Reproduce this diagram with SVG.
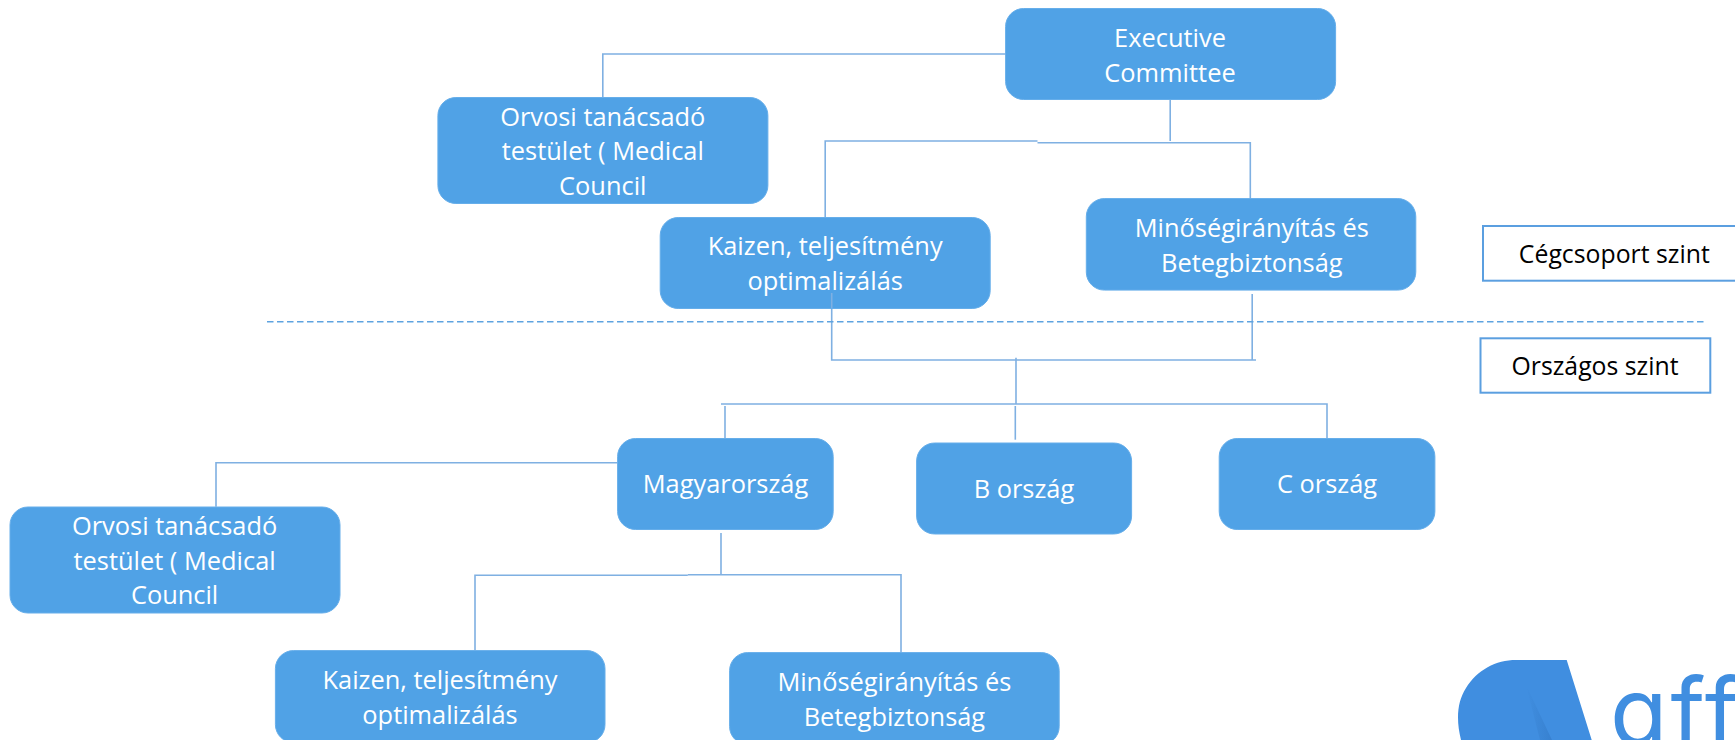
<svg xmlns="http://www.w3.org/2000/svg" width="1735" height="740" viewBox="0 0 1735 740">
<style>
.box{fill:#50a2e6;stroke:#66aeea;stroke-width:1}
.t{font-family:"Open Sans","Noto Sans","Liberation Sans",sans-serif;font-size:25.4px;fill:#fff;text-anchor:middle}
.k{fill:#000;font-size:24.8px}
.lab{fill:#fff;stroke:#5b9fe0;stroke-width:2}
.c{fill:none;stroke:#7fb0e2;stroke-width:1.6}
.d{fill:none;stroke:#5ea3e0;stroke-width:1.4;stroke-dasharray:6.5 3.5}
.logo{font-family:Inter,"Noto Sans",sans-serif;font-size:94px;font-weight:400;letter-spacing:3px;fill:#408ee0;font-feature-settings:"cv11"}
</style>
<defs><linearGradient id="sh" x1="0" y1="0" x2="1" y2="0"><stop offset="0" stop-color="#408ee0"/><stop offset="1" stop-color="#2f74c0"/></linearGradient></defs>
<g id="connectors">
<path class="c" d="M1006 54H602.8V97"/>
<path class="c" d="M1170.2 99.5V141"/>
<path class="c" d="M1037.5 141H825.2V217"/>
<path class="c" d="M1037.5 142.7H1250.3V218"/>
<path class="c" d="M831.7 293V360H1256"/>
<path class="c" d="M1252.2 294V360"/>
<path class="c" d="M1016 357.7V404"/>
<path class="c" d="M721 404H1327V438"/>
<path class="c" d="M725 406V438"/>
<path class="c" d="M1015.3 406V439.7"/>
<path class="c" d="M617 462.7H216V506.7"/>
<path class="c" d="M721 533V575"/>
<path class="c" d="M687.8 575.3H475V650.3"/>
<path class="c" d="M687.8 574.7H901V652.3"/>
<path class="d" d="M267 321.7H1707"/>
</g>
<g id="n-exec"><rect class="box" x="1005.6" y="8.5" width="330" height="91" rx="18"/><text class="t" x="1170" y="46.7">Executive</text><text class="t" x="1170" y="82">Committee</text></g>
<g id="n-orvosi1"><rect class="box" x="437.9" y="97.5" width="330" height="106" rx="18"/><text class="t" x="602.8" y="126">Orvosi tanácsadó</text><text class="t" x="602.8" y="160">testület ( Medical</text><text class="t" x="602.8" y="195">Council</text></g>
<g id="n-kaizen1"><rect class="box" x="660.2" y="217.5" width="330" height="91" rx="18"/><text class="t" x="825.2" y="255">Kaizen, teljesítmény</text><text class="t" x="825.2" y="290">optimalizálás</text></g>
<path class="c" d="M831.7 293V308"/>
<g id="n-min1"><rect class="box" x="1086.3" y="198.6" width="329.5" height="91.5" rx="18"/><text class="t" x="1251.8" y="236.7">Minőségirányítás és</text><text class="t" x="1251.8" y="271.7">Betegbiztonság</text></g>
<g id="n-ceg"><rect class="lab" x="1483" y="226" width="270" height="54.7"/><text class="t k" x="1614.3" y="263.3">Cégcsoport szint</text></g>
<g id="n-orsz"><rect class="lab" x="1480.5" y="338.3" width="229.8" height="54.4"/><text class="t k" x="1595" y="375">Országos szint</text></g>
<g id="n-magy"><rect class="box" x="617.6" y="438.5" width="215.6" height="91" rx="18"/><text class="t" x="725.5" y="492.7">Magyarország</text></g>
<g id="n-b"><rect class="box" x="916.6" y="443" width="215" height="91" rx="18"/><text class="t" x="1024" y="497.7">B ország</text></g>
<g id="n-c"><rect class="box" x="1219.2" y="438.5" width="215.7" height="91" rx="18"/><text class="t" x="1327" y="492.7">C ország</text></g>
<g id="n-orvosi2"><rect class="box" x="10" y="507" width="330" height="106" rx="18"/><text class="t" x="174.6" y="535">Orvosi tanácsadó</text><text class="t" x="174.6" y="570">testület ( Medical</text><text class="t" x="174.6" y="604">Council</text></g>
<g id="n-kaizen2"><rect class="box" x="275.4" y="650.6" width="329.6" height="92" rx="18"/><text class="t" x="440" y="689.3">Kaizen, teljesítmény</text><text class="t" x="440" y="724">optimalizálás</text></g>
<g id="n-min2"><rect class="box" x="729.6" y="652.6" width="329.6" height="92" rx="18"/><text class="t" x="894.4" y="690.7">Minőségirányítás és</text><text class="t" x="894.4" y="726">Betegbiztonság</text></g>
<g id="logo">
<path fill="#408ee0" d="M1516 660H1566.7L1591.7 740H1461C1456 720 1457 702 1466 688C1477 670 1496 660 1516 660Z"/>
<path fill="url(#sh)" d="M1526 685L1552 740H1540Z" opacity=".5"/>
<text class="logo" x="1610" y="745">aff</text>
</g>
</svg>
